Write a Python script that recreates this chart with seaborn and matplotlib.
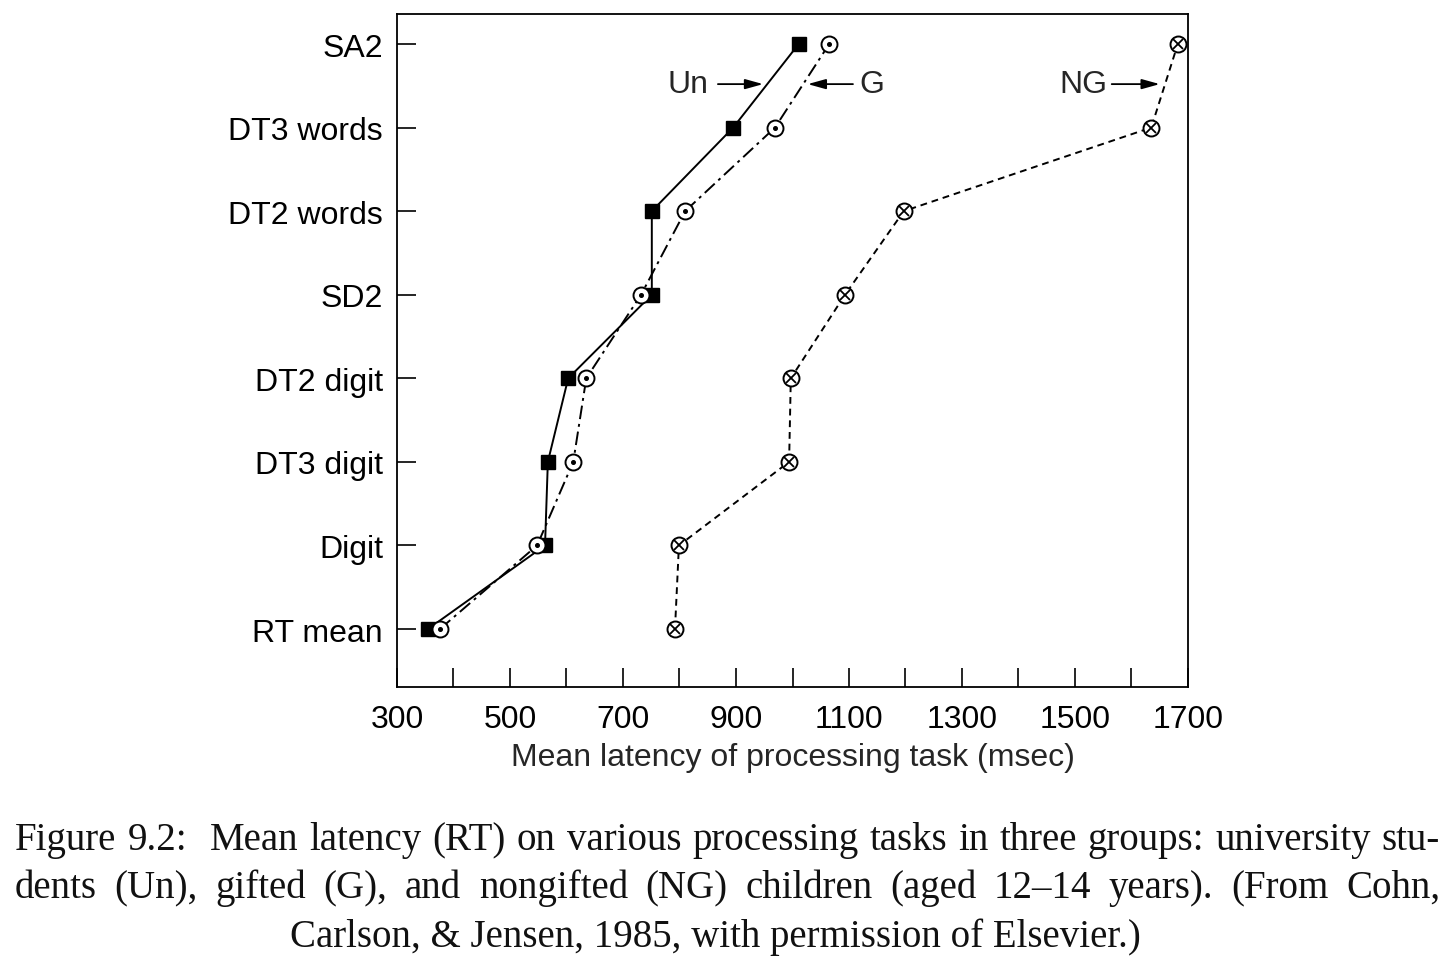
import matplotlib
matplotlib.use("Agg")
import matplotlib.pyplot as plt
import pandas as pd
import seaborn as sns

sns.set_theme(style="ticks")
plt.rcParams["font.family"] = ["Liberation Sans", "DejaVu Sans"]

tasks = ["RT mean", "Digit", "DT3 digit", "DT2 digit", "SD2",
         "DT2 words", "DT3 words", "SA2"]
un_ms = [355, 562, 567, 603, 751, 751, 895, 1011]
g_ms = [376, 548, 612, 635, 732, 810, 969, 1065]
ng_ms = [792, 799, 994, 997, 1093, 1197, 1635, 1682]

xticks_major = [300, 500, 700, 900, 1100, 1300, 1500, 1700]

caption_lines = [
    "Figure 9.2:  Mean latency (RT) on various processing tasks in three groups: university stu-",
    "dents (Un), gifted (G), and nongifted (NG) children (aged 12\u201314 years). (From Cohn,",
    "Carlson, & Jensen, 1985, with permission of Elsevier.)",
]

rows = []
for grp, vals in (("Un", un_ms), ("G", g_ms), ("NG", ng_ms)):
    for i, v in enumerate(vals):
        rows.append({"group": grp, "latency": v, "task": i})
df = pd.DataFrame(rows)

W, H = 1456, 970
fig = plt.figure(figsize=(W / 100, H / 100), dpi=100)
ax = fig.add_axes([397 / W, 1 - 688 / H, (1188 - 397) / W, (688 - 15) / H])

sns.lineplot(
    data=df, x="latency", y="task", hue="group", style="group",
    palette={"Un": "black", "G": "black", "NG": "black"},
    dashes={"Un": "", "G": (7, 2.5, 1.5, 2.5), "NG": (3.5, 2.5)},
    sort=False, estimator=None, lw=1.4, legend=False, ax=ax,
)

ypos = list(range(len(tasks)))
ax.plot(un_ms, ypos, ls="none", marker="s", ms=10, mfc="black", mec="black", zorder=4)
ax.plot(g_ms, ypos, ls="none", marker="o", ms=11.5, mfc="white", mec="black", mew=1.4, zorder=5)
ax.plot(g_ms, ypos, ls="none", marker="o", ms=2.6, mfc="black", mec="black", zorder=6)
ax.plot(ng_ms, ypos, ls="none", marker="o", ms=11.5, mfc="white", mec="black", mew=1.4, zorder=5)
ax.plot(ng_ms, ypos, ls="none", marker="x", ms=6.5, mec="black", mew=1.3, zorder=6)

ax.set_xlim(300, 1700)
ax.set_ylim(-0.694, 7.359)
ax.set_xticks(list(range(300, 1701, 100)))
ax.set_xticklabels([str(v) if v in xticks_major else "" for v in range(300, 1701, 100)])
ax.set_yticks(ypos)
ax.set_yticklabels(tasks)
ax.tick_params(direction="in", length=13.5, width=1.2, labelsize=23, colors="black")
ax.tick_params(axis="x", pad=12)
ax.tick_params(axis="y", pad=10)
for s in ax.spines.values():
    s.set_linewidth(1.3)
    s.set_color("black")
ax.set_xlabel("Mean latency of processing task (msec)", fontsize=23, labelpad=6)
ax.set_ylabel("")

arrow = dict(arrowstyle="-|>,head_length=0.9,head_width=0.25", color="black", lw=1.3,
             shrinkA=0, shrinkB=0)
ay = 6.52
ax.annotate("", xy=(948, ay), xytext=(868, ay), arrowprops=arrow)
ax.text(851, ay, "Un", fontsize=23, ha="right", va="center")
ax.annotate("", xy=(1027, ay), xytext=(1107, ay), arrowprops=arrow)
ax.text(1119, ay, "G", fontsize=23, ha="left", va="center")
ax.annotate("", xy=(1650, ay), xytext=(1565, ay), arrowprops=arrow)
ax.text(1558, ay, "NG", fontsize=23, ha="right", va="center")

# caption, justified like the book page
cap_font = dict(family=["Liberation Serif", "DejaVu Serif"], fontsize=28, color="#111111")
renderer = fig.canvas.get_renderer()
left, right = 15, 1440
baselines = [850, 898, 947]
for n, line in enumerate(caption_lines):
    y = 1 - baselines[n] / H
    if n == len(caption_lines) - 1:
        fig.text(715 / W, y, line, ha="center", va="baseline", **cap_font)
        continue
    words = line.replace(":  ", ":\u00a0 ").split(" ")
    words = [w.replace("\u00a0", "") for w in words]
    texts = [fig.text(0, y, w, va="baseline", **cap_font) for w in words]
    widths = [t.get_window_extent(renderer).width for t in texts]
    extra = [12 if w.endswith("9.2:") else 0 for w in words[:-1]]
    gap = (right - left - sum(widths) - sum(extra)) / (len(words) - 1)
    x = left
    for i, t in enumerate(texts):
        t.set_x(x / W)
        x += widths[i] + gap + (extra[i] if i < len(extra) else 0)

fig.savefig("out.png", dpi=100)
